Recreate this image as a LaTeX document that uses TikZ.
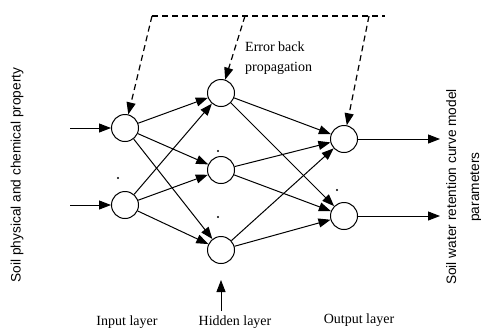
\documentclass[tikz,border=0pt]{standalone}
\usepackage{fontspec}
\setmainfont{Liberation Serif}
\setsansfont{Liberation Sans}
\usetikzlibrary{arrows.meta}
\begin{document}
\begin{tikzpicture}[x=1bp,y=-1bp,
  neuron/.style={circle,draw,line width=1bp,minimum size=27bp,inner sep=0pt},
  conn/.style={line width=1bp,-{Triangle[length=12bp,width=9bp]}},
  back/.style={conn,line width=1.2bp,dash pattern=on 6bp off 4bp},
  dline/.style={line width=1.2bp,dash pattern=on 6bp off 4bp},
  lbl/.style={font=\fontsize{14bp}{16bp}\selectfont,inner sep=0pt},
  side/.style={font=\sffamily\fontsize{13.7bp}{23bp}\selectfont,rotate=90,align=center,inner sep=0pt},
  dotm/.style={circle,fill,inner sep=0pt,minimum size=2.2bp}]
\useasboundingbox (0,0) rectangle (481,330);
% neurons
\node[neuron] (i1) at (125,128) {};
\node[neuron] (i2) at (125,205) {};
\node[neuron] (h1) at (221,93) {};
\node[neuron] (h2) at (221,170) {};
\node[neuron] (h3) at (221,250) {};
\node[neuron] (o1) at (344,139) {};
\node[neuron] (o2) at (344,216) {};
% free ends
\coordinate (in1) at (70,128);
\coordinate (in2) at (70,205);
\coordinate (out1) at (440,139);
\coordinate (out2) at (440,216);
\coordinate (hb) at (221,311);
\coordinate (ht) at (221,280);
\coordinate (c1) at (152,16);
\coordinate (c2) at (385,16);
\coordinate (c3) at (245,16);
\coordinate (c4) at (369,16);
% inputs and outputs
\draw[conn] (in1) -- (i1);
\draw[conn] (in2) -- (i2);
\draw[conn] (o1) -- (out1);
\draw[conn] (o2) -- (out2);
\draw[conn] (hb) -- (ht);
% input -> hidden
\foreach \a in {i1,i2}{
  \foreach \b in {h1,h2,h3}{
    \draw[conn] (\a) -- (\b);
  }
}
% hidden -> output
\foreach \a in {h1,h2,h3}{
  \foreach \b in {o1,o2}{
    \draw[conn] (\a) -- (\b);
  }
}
% back propagation
\draw[dline] (c1) -- (c2);
\draw[back] (c1) -- (i1);
\draw[back] (c3) -- (h1);
\draw[back] (c4) -- (o1);
% dots
\node[dotm] (d1) at (118,178) {};
\node[dotm] (d2) at (218,151) {};
\node[dotm] (d3) at (218,217) {};
\node[dotm] (d4) at (337,190) {};
% texts
\node[lbl,anchor=west] (e1) at (245,47) {Error back};
\node[lbl,anchor=west] (e2) at (245,68) {propagation};
\node[lbl] (l1) at (127,322) {Input layer};
\node[lbl] (l2) at (235,322) {Hidden layer};
\node[lbl] (l3) at (359,320) {Output layer};
\node[side] (s1) at (17,175) {Soil physical and chemical property};
\node[side] (s2) at (464,187) {Soil water retention curve model\\parameters};
\end{tikzpicture}
\end{document}
